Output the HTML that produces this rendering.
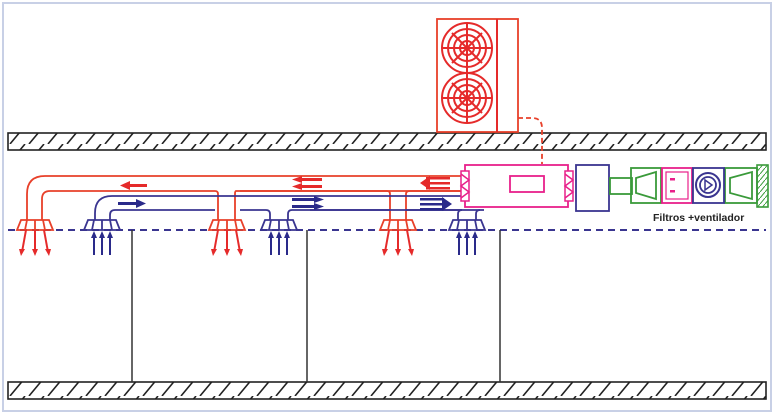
<!DOCTYPE html>
<html><head><style>body{margin:0;background:#fff}svg{display:block}</style></head><body>
<svg width="774" height="416" viewBox="0 0 774 416" xmlns="http://www.w3.org/2000/svg">
<defs>
<pattern id="h" patternUnits="userSpaceOnUse" width="19" height="18" x="8">
<line x1="2" y1="18" x2="17" y2="0" stroke="#222" stroke-width="1.6"/>
</pattern>
<pattern id="g" patternUnits="userSpaceOnUse" width="5" height="6">
<line x1="0" y1="6" x2="5" y2="0" stroke="#3a9a3a" stroke-width="1"/>
</pattern>
<g id="fan" fill="none" stroke="#e52a2a" stroke-width="2">
<circle r="25"/><circle r="19"/><circle r="13"/><circle r="7"/>
<line x1="-25" y1="0" x2="25" y2="0"/><line x1="0" y1="-25" x2="0" y2="25"/>
<line x1="-15" y1="-15" x2="15" y2="15"/><line x1="15" y1="-15" x2="-15" y2="15"/>
</g>
<g id="rd" fill="none" stroke="#e8402a" stroke-width="1.8">
<path d="M-14,0 L14,0 L18,10 L-18,10 Z"/><line x1="-8" y1="0" x2="-10" y2="10"/><line x1="0" y1="0" x2="0" y2="10"/><line x1="8" y1="0" x2="10" y2="10"/>
<g stroke="#e52a2a" stroke-width="2"><line x1="-9" y1="10" x2="-13" y2="32"/><line x1="0" y1="10" x2="0" y2="32"/><line x1="9" y1="10" x2="13" y2="32"/></g>
<g fill="#e52a2a" stroke="none"><path d="M-16,29 L-10,29 L-14,36Z"/><path d="M-3,29 L3,29 L0,36Z"/><path d="M10,29 L16,29 L14,36Z"/></g>
</g>
<g id="bd" fill="none" stroke="#3a3590" stroke-width="1.8">
<path d="M-14,0 L14,0 L18,10 L-18,10 Z"/><line x1="-8" y1="0" x2="-10" y2="10"/><line x1="0" y1="0" x2="0" y2="10"/><line x1="8" y1="0" x2="10" y2="10"/>
<g stroke="#2a2a8a" stroke-width="2"><line x1="-8" y1="16" x2="-8" y2="35"/><line x1="0" y1="16" x2="0" y2="35"/><line x1="8" y1="16" x2="8" y2="35"/></g>
<g fill="#2a2a8a" stroke="none"><path d="M-11,18 L-5,18 L-8,11Z"/><path d="M-3,18 L3,18 L0,11Z"/><path d="M5,18 L11,18 L8,11Z"/></g>
</g>
</defs>
<rect x="3" y="3" width="768" height="408" fill="none" stroke="#c8d0e6" stroke-width="2"/>
<!-- slabs -->
<rect x="8" y="133" width="758" height="17" fill="url(#h)" stroke="#222" stroke-width="1.6"/>
<rect x="8" y="382" width="758" height="17" fill="url(#h)" stroke="#222" stroke-width="1.6"/>
<!-- outdoor unit -->
<rect x="437" y="19" width="81" height="113" fill="#fff" stroke="#e8402a" stroke-width="1.8"/>
<line x1="497" y1="19" x2="497" y2="132" stroke="#e52a2a" stroke-width="2"/>
<use href="#fan" x="467" y="48"/><use href="#fan" x="467" y="98"/>
<path d="M518,118 L532,118 Q542,118 542,128 L542,164" fill="none" stroke="#e8402a" stroke-width="1.8" stroke-dasharray="5,3"/>
<!-- ceiling dashed -->
<line x1="8" y1="230" x2="766" y2="230" stroke="#3a3590" stroke-width="2" stroke-dasharray="7,5"/>
<!-- columns -->
<g stroke="#333" stroke-width="1.5"><line x1="132" y1="230" x2="132" y2="382"/><line x1="307" y1="230" x2="307" y2="382"/><line x1="500" y1="230" x2="500" y2="382"/></g>
<!-- red duct -->
<g fill="none" stroke="#e8402a" stroke-width="1.8">
<path d="M462,176 L45,176 Q27,176 27,194 L27,220"/>
<path d="M462,191 L236,191 Q235,191 235,194 L235,220"/>
<path d="M218,220 L218,194 Q218,191 215,191 L50,191 Q42,191 42,199 L42,220"/>
<path d="M390,220 L390,194 Q390,191 387,191 L240,191"/>
<path d="M462,191 L410,191 Q406,191 406,194 L406,220"/>
</g>
<!-- blue duct -->
<g fill="none" stroke="#3a3590" stroke-width="1.8">
<path d="M462,196 L112,196 Q95,196 95,213 L95,220"/>
<path d="M462,210 L292,210 Q288,210 288,214 L288,220"/>
<path d="M270,220 L270,214 Q270,210 266,210 L240,210"/>
<path d="M215,210 L115,210 Q110,210 110,215 L110,220"/>
<path d="M390,210 L310,210"/>
<path d="M406,210 L484,210"/>
<path d="M458,220 L458,214 Q458,210 462,210"/><path d="M476,220 L476,214 Q476,210 480,210"/>
</g>
<!-- diffusers -->
<use href="#rd" x="35" y="220"/><use href="#rd" x="227" y="220"/><use href="#rd" x="398" y="220"/>
<use href="#bd" x="102" y="220"/><use href="#bd" x="279" y="220"/><use href="#bd" x="467" y="220"/>
<!-- flow arrows -->
<g fill="#e52a2a">
<rect x="128" y="184" width="19" height="3"/><path d="M120,185.5 L130,181 L130,190Z"/>
<rect x="298" y="178" width="24" height="3"/><rect x="298" y="185" width="24" height="3"/><path d="M292,179.5 L302,176 L302,183Z"/><path d="M292,186.5 L302,183 L302,190Z"/>
<rect x="426" y="177" width="24" height="2.5"/><rect x="426" y="182" width="24" height="2.5"/><rect x="426" y="187" width="24" height="2.5"/><path d="M420,183 L430,176 L430,190Z"/>
</g>
<g fill="#2a2a8a">
<rect x="118" y="202" width="19" height="3"/><path d="M146,203.5 L136,199 L136,208Z"/>
<rect x="292" y="198" width="24" height="3"/><rect x="292" y="205" width="24" height="3"/><path d="M324,199.5 L314,196 L314,203Z"/><path d="M324,206.5 L314,203 L314,210Z"/>
<rect x="420" y="198" width="24" height="2.5"/><rect x="420" y="203" width="24" height="2.5"/><rect x="420" y="208" width="24" height="2.5"/><path d="M452,204 L442,197 L442,211Z"/>
</g>
<!-- indoor unit -->
<rect x="465" y="165" width="103" height="42" fill="#fff" stroke="#e8208a" stroke-width="1.8"/>
<rect x="510" y="176" width="34" height="16" fill="none" stroke="#e8208a" stroke-width="1.8"/>
<g fill="#fff" stroke="#e8208a" stroke-width="1.5">
<rect x="461" y="171" width="8" height="30"/><rect x="565" y="171" width="8" height="30"/>
<path d="M461,174 L469,180 L461,186 L469,192 L461,198 M565,174 L573,180 L565,186 L573,192 L565,198" fill="none"/>
</g>
<rect x="576" y="165" width="33" height="46" fill="#fff" stroke="#3a3590" stroke-width="1.8"/>
<rect x="610" y="178" width="22" height="16" fill="none" stroke="#3a9a3a" stroke-width="1.8"/>
<g fill="none" stroke="#3a9a3a" stroke-width="1.8">
<rect x="631" y="168" width="30" height="35"/><path d="M636,178 L656,172 L656,199 L636,193Z"/>
<rect x="725" y="168" width="32" height="35"/><path d="M730,178 L752,172 L752,199 L730,193Z"/>
</g>
<rect x="662" y="168" width="30" height="35" fill="none" stroke="#e8208a" stroke-width="1.8"/>
<rect x="666" y="172" width="22" height="27" fill="none" stroke="#e8208a" stroke-width="1.2"/>
<rect x="670" y="178" width="5" height="2.5" fill="#e8208a"/><rect x="670" y="190" width="5" height="2.5" fill="#e8208a"/>
<rect x="693" y="168" width="31" height="35" fill="none" stroke="#3a3590" stroke-width="1.8"/>
<circle cx="708" cy="185" r="12" fill="none" stroke="#3a3590" stroke-width="2"/><circle cx="708" cy="185" r="8" fill="none" stroke="#3a3590" stroke-width="1.8"/>
<path d="M705,180 L712,185 L705,190Z" fill="none" stroke="#3a3590" stroke-width="1.5"/>
<rect x="757" y="165" width="11" height="42" fill="url(#g)" stroke="#3a9a3a" stroke-width="1.6"/>
<text x="653" y="221" font-family="Liberation Sans, sans-serif" font-size="10.5" font-weight="bold" fill="#222">Filtros +ventilador</text>
</svg>
</body></html>
